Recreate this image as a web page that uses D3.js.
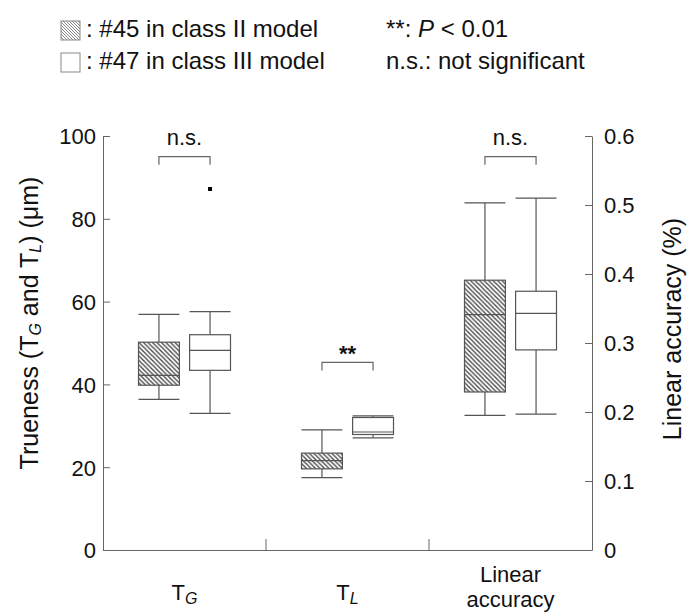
<!DOCTYPE html>
<html>
<head>
<meta charset="utf-8">
<script src="https://cdn.jsdelivr.net/npm/d3@7"></script>
<style>
  body { margin: 0; background: #fff; }
  svg { font-family: 'Liberation Sans', Arial, sans-serif; }
  .axis path, .axis line { stroke: #666; }
  .axis text { fill: #111; font-size: 22px; }
</style>
</head>
<body>
<div id="chart"></div>
<script>
// groups on the x axis
const categories = ['TG', 'TL', 'LA'];
const models = ['#45 in class II model', '#47 in class III model'];

// box stats: [whisker low, q1, median, q3, whisker high]
const tgStats = [[36.4, 39.8, 42.2, 50.2, 56.9], [33.0, 43.4, 48.2, 52.0, 57.6]];
const tlStats = [[17.5, 19.6, 21.6, 23.4, 29.0], [27.1, 27.9, 28.5, 32.0, 32.4]];
const laStats = [[0.195, 0.229, 0.341, 0.391, 0.503], [0.197, 0.29, 0.343, 0.375, 0.510]];
const outliers = [{ cat: 'TG', model: 1, value: 87.2 }];

// significance brackets (value in left axis units)
const brackets = [
  { cat: 'TG', label: 'n.s.', value: 95 },
  { cat: 'TL', label: '**', value: 45.3 },
  { cat: 'LA', label: 'n.s.', value: 95 },
];

const leftTicks = [0, 20, 40, 60, 80, 100];
const rightTicks = [0, 0.1, 0.2, 0.3, 0.4, 0.5, 0.6];

const width = 699;
const height = 616;
const plot = { left: 103, right: 592, top: 136, bottom: 550 };

const svg = d3
  .select('#chart')
  .append('svg')
  .attr('width', width)
  .attr('height', height);

const defs = svg.append('defs');
const hatch = defs
  .append('pattern')
  .attr('id', 'hatch')
  .attr('patternUnits', 'userSpaceOnUse')
  .attr('width', 4.5)
  .attr('height', 4.5);
hatch.append('rect').attr('width', 4.5).attr('height', 4.5).attr('fill', '#fff');
hatch
  .append('path')
  .attr('d', 'M-1,-1 L5.5,5.5 M-1,3.5 L1,5.5 M3.5,-1 L5.5,1')
  .attr('stroke', '#444')
  .attr('stroke-width', 1.3);

const legendHatch = defs
  .append('pattern')
  .attr('id', 'hatch-legend')
  .attr('patternUnits', 'userSpaceOnUse')
  .attr('width', 3)
  .attr('height', 3);
legendHatch.append('rect').attr('width', 3).attr('height', 3).attr('fill', '#fff');
legendHatch
  .append('path')
  .attr('d', 'M-1,-1 L4,4 M-1,2 L1,4 M2,-1 L4,1')
  .attr('stroke', '#777')
  .attr('stroke-width', 0.9);

const x = d3
  .scaleBand()
  .domain(categories)
  .range([plot.left, plot.right]);

const xInner = d3
  .scaleBand()
  .domain([0, 1])
  .range([x.bandwidth() / 2 - 46, x.bandwidth() / 2 + 46])
  .paddingInner(0.2);

const yL = d3.scaleLinear().domain([0, 100]).range([plot.bottom, plot.top]);
const yR = d3.scaleLinear().domain([0, 0.6]).range([plot.bottom, plot.top]);

// axes
const leftAxis = svg
  .append('g')
  .attr('class', 'axis')
  .attr('transform', `translate(${plot.left},0)`)
  .call(d3.axisLeft(yL).tickValues(leftTicks).tickSizeInner(-7).tickSizeOuter(0).tickPadding(7));
leftAxis.selectAll('text').attr('dy', '0.36em');

const rightAxis = svg
  .append('g')
  .attr('class', 'axis')
  .attr('transform', `translate(${plot.right},0)`)
  .call(
    d3
      .axisRight(yR)
      .tickValues(rightTicks)
      .tickFormat((d) => (d === 0 ? '0' : d3.format('.1f')(d)))
      .tickSizeInner(-7)
      .tickSizeOuter(0)
      .tickPadding(12)
  );
rightAxis.selectAll('text').attr('dy', '0.36em');

svg
  .append('g')
  .attr('class', 'axis')
  .attr('transform', `translate(0,${plot.bottom})`)
  .call(d3.axisBottom(x).tickValues([]).tickSizeOuter(0));
svg
  .append('g')
  .selectAll('line')
  .data(categories.slice(1))
  .join('line')
  .attr('x1', (d) => x(d))
  .attr('x2', (d) => x(d))
  .attr('y1', plot.bottom)
  .attr('y2', plot.bottom - 11)
  .attr('stroke', '#666');

// category labels
const catLabels = svg.append('g').attr('fill', '#111').attr('font-size', 22).attr('text-anchor', 'middle');
[['TG', 'G'], ['TL', 'L']].forEach(([c, sub]) => {
  const t = catLabels.append('text').attr('x', x(c) + x.bandwidth() / 2).attr('y', 600);
  t.append('tspan').text('T');
  t.append('tspan').attr('font-size', 16).attr('font-style', 'italic').attr('dy', 4).text(sub);
});
catLabels
  .append('text')
  .attr('x', x('LA') + x.bandwidth() / 2)
  .attr('y', 582)
  .text('Linear');
catLabels
  .append('text')
  .attr('x', x('LA') + x.bandwidth() / 2)
  .attr('y', 607)
  .text('accuracy');

// axis titles
const leftTitle = svg
  .append('text')
  .attr('transform', `translate(38,${(plot.top + plot.bottom) / 2 - 20}) rotate(-90)`)
  .attr('text-anchor', 'middle')
  .attr('font-size', 25)
  .attr('fill', '#111');
leftTitle.append('tspan').text('Trueness (T');
leftTitle.append('tspan').attr('font-size', 16).attr('font-style', 'italic').attr('dy', 3).text('G');
leftTitle.append('tspan').attr('dy', -3).text(' and T');
leftTitle.append('tspan').attr('font-size', 16).attr('font-style', 'italic').attr('dy', 3).text('L');
leftTitle.append('tspan').attr('dy', -3).text(') (μm)');

svg
  .append('text')
  .attr('transform', `translate(681,${(plot.top + plot.bottom) / 2 - 14}) rotate(-90)`)
  .attr('text-anchor', 'middle')
  .attr('font-size', 25)
  .attr('fill', '#111')
  .text('Linear accuracy (%)');

// boxes
const groups = [
  { cat: 'TG', y: yL, stats: tgStats },
  { cat: 'TL', y: yL, stats: tlStats },
  { cat: 'LA', y: yR, stats: laStats },
];
const boxData = groups.flatMap((g) =>
  g.stats.map((s, i) => ({ cat: g.cat, model: i, y: g.y, s }))
);

const box = svg
  .append('g')
  .selectAll('g')
  .data(boxData)
  .join('g')
  .attr('transform', (d) => `translate(${x(d.cat) + xInner(d.model)},0)`)
  .attr('stroke', '#555')
  .attr('stroke-width', 1.2);

const bw = xInner.bandwidth();
box
  .append('line')
  .attr('x1', bw / 2)
  .attr('x2', bw / 2)
  .attr('y1', (d) => d.y(d.s[0]))
  .attr('y2', (d) => d.y(d.s[4]));
box
  .append('line')
  .attr('x1', 0)
  .attr('x2', bw)
  .attr('y1', (d) => d.y(d.s[0]))
  .attr('y2', (d) => d.y(d.s[0]));
box
  .append('line')
  .attr('x1', 0)
  .attr('x2', bw)
  .attr('y1', (d) => d.y(d.s[4]))
  .attr('y2', (d) => d.y(d.s[4]));
box
  .append('rect')
  .attr('x', 0)
  .attr('width', bw)
  .attr('y', (d) => d.y(d.s[3]))
  .attr('height', (d) => d.y(d.s[1]) - d.y(d.s[3]))
  .attr('fill', (d) => (d.model === 0 ? 'url(#hatch)' : '#fff'));
box
  .append('line')
  .attr('x1', 0)
  .attr('x2', bw)
  .attr('y1', (d) => d.y(d.s[2]))
  .attr('y2', (d) => d.y(d.s[2]));

svg
  .append('g')
  .selectAll('rect')
  .data(outliers)
  .join('rect')
  .attr('x', (d) => x(d.cat) + xInner(d.model) + bw / 2 - 2)
  .attr('y', (d) => yL(d.value) - 2)
  .attr('width', 4)
  .attr('height', 4)
  .attr('fill', '#000');

// brackets
const br = svg
  .append('g')
  .selectAll('g')
  .data(brackets)
  .join('g');
br.append('path')
  .attr('fill', 'none')
  .attr('stroke', '#666')
  .attr('stroke-width', 1.2)
  .attr('d', (d) => {
    const x0 = x(d.cat) + xInner(0) + bw / 2;
    const x1 = x(d.cat) + xInner(1) + bw / 2;
    const yy = yL(d.value);
    return `M${x0},${yy + 8}V${yy}H${x1}V${yy + 8}`;
  });
br.append('text')
  .attr('x', (d) => x(d.cat) + x.bandwidth() / 2)
  .attr('y', (d) => (d.label === '**' ? yL(d.value) - 1 : yL(d.value) - 12))
  .attr('text-anchor', 'middle')
  .attr('font-size', 22)
  .attr('font-weight', (d) => (d.label === '**' ? 'bold' : 'normal'))
  .attr('fill', '#111')
  .text((d) => d.label);

// legend
const legend = svg.append('g').attr('font-size', 24).attr('fill', '#111');
models.forEach((m, i) => {
  legend
    .append('rect')
    .attr('x', 61)
    .attr('y', 21 + i * 32)
    .attr('width', 19)
    .attr('height', 19)
    .attr('fill', i === 0 ? 'url(#hatch-legend)' : '#fff')
    .attr('stroke', '#888')
    .attr('stroke-width', 1);
  legend
    .append('text')
    .attr('x', 86)
    .attr('y', 37 + i * 32)
    .text(': ' + m);
});
const sig = legend.append('text').attr('x', 386).attr('y', 37);
sig.append('tspan').text('**: ');
sig.append('tspan').attr('font-style', 'italic').text('P');
sig.append('tspan').text(' < 0.01');
legend.append('text').attr('x', 386).attr('y', 69).text('n.s.: not significant');
</script>
</body>
</html>
